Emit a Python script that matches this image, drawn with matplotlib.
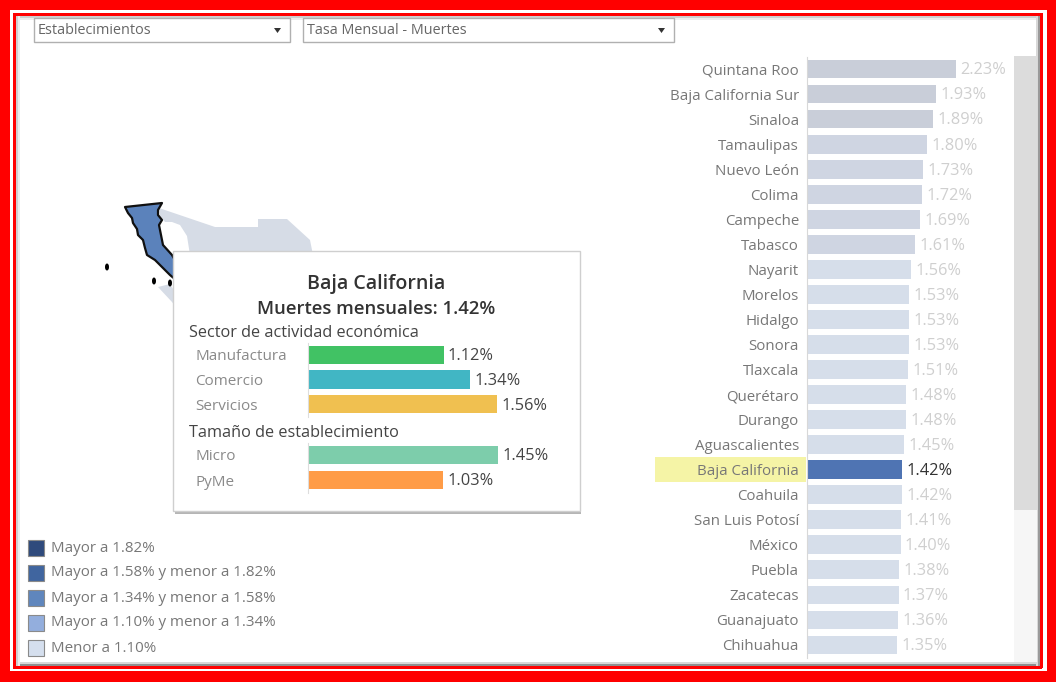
import matplotlib
matplotlib.use('Agg')
import matplotlib.pyplot as plt
from matplotlib.patches import Rectangle, Polygon, Ellipse

plt.rcParams['font.family'] = ['Open Sans', 'DejaVu Sans']

W, H = 1056, 682

# ranking por estado
estados = ['Quintana Roo', 'Baja California Sur', 'Sinaloa', 'Tamaulipas', 'Nuevo León', 'Colima',
           'Campeche', 'Tabasco', 'Nayarit', 'Morelos', 'Hidalgo', 'Sonora', 'Tlaxcala', 'Querétaro',
           'Durango', 'Aguascalientes', 'Baja California', 'Coahuila', 'San Luis Potosí', 'México',
           'Puebla', 'Zacatecas', 'Guanajuato', 'Chihuahua']
tasas = [2.23, 1.93, 1.89, 1.80, 1.73, 1.72, 1.69, 1.61, 1.56, 1.53, 1.53, 1.53, 1.51, 1.48,
         1.48, 1.45, 1.42, 1.42, 1.41, 1.40, 1.38, 1.37, 1.36, 1.35]
seleccionado = 'Baja California'

# tooltip
sectores = ['Manufactura', 'Comercio', 'Servicios']
sectores_val = [1.12, 1.34, 1.56]
sectores_col = ['#41c264', '#41b6c4', '#f0c050']
tamanos = ['Micro', 'PyMe']
tamanos_val = [1.45, 1.03]
tamanos_col = ['#7dcdab', '#ff9c47']

# leyenda
legend_labels = ['Mayor a 1.82%', 'Mayor a 1.58% y menor a 1.82%', 'Mayor a 1.34% y menor a 1.58%',
                 'Mayor a 1.10% y menor a 1.34%', 'Menor a 1.10%']
legend_colors = ['#2f4a7c', '#40659f', '#5f86bd', '#93aedd', '#d5dfee']

# mapa (contornos en pixeles de la imagen)
bc_shape = [(125, 207), (162, 203), (158, 210), (158, 215), (162, 220), (159, 225), (161, 235), (163, 245),
            (172, 255), (176, 262), (176, 280), (170, 275), (162, 267), (155, 260), (147, 255), (145, 248),
            (143, 240), (138, 235), (137, 229), (133, 223), (132, 218), (128, 213)]
sonora_shape = [(159, 208), (215, 227), (258, 227), (258, 219), (287, 219), (310, 240), (313, 255),
                (190, 255), (187, 236), (180, 225), (172, 222), (165, 222), (160, 216)]
bcs_shape = [(158, 287), (170, 284), (180, 300), (180, 312), (172, 302)]
islas = [(107, 267), (154, 281), (170, 283)]


def px_axes(fig, x0, y0, x1, y1):
    return fig.add_axes([x0 / W, 1 - y1 / H, (x1 - x0) / W, (y1 - y0) / H])


def color_clase(v):
    # tonos atenuados, el estado seleccionado va resaltado
    if v > 1.82:
        return '#c9ced9'
    if v > 1.58:
        return '#cfd5e2'
    return '#d6deea'


def bajar_etiquetas(etiquetas):
    # bar_label queda un poco alto con esta fuente
    for t in etiquetas:
        t.xyann = (t.xyann[0], -1.0)


fig = plt.figure(figsize=(W / 100, H / 100), dpi=100, facecolor='white')
bg = fig.add_axes([0, 0, 1, 1])
bg.set_xlim(0, W)
bg.set_ylim(H, 0)
bg.axis('off')

# marco rojo
for x, y, w, h, c in [(0, 0, W, 10, '#ff0000'), (0, 671, W, 11, '#ff0000'), (0, 0, 10, H, '#ff0000'),
                      (1047, 0, 9, H, '#ff0000'),
                      (13, 13, 1029, 2.5, '#ff0000'), (13, 666, 1029, 2.5, '#ff0000'),
                      (13, 13, 2.5, 655, '#ff0000'), (1040, 13, 2.5, 655, '#ff0000'),
                      (15.5, 15.5, 1024.5, 2, '#cfcfcf'), (15.5, 17.5, 1024.5, 2, '#ececec'),
                      (15.5, 664, 1024.5, 2, '#8f8f8f'), (15.5, 662, 1024.5, 2, '#d8d8d8'),
                      (15.5, 15.5, 2, 650, '#cfcfcf'), (17.5, 15.5, 2, 650, '#ececec'),
                      (1038, 15.5, 2, 650, '#9a9a9a'), (1036, 15.5, 2, 650, '#d8d8d8')]:
    bg.add_patch(Rectangle((x, y), w, h, fc=c, ec='none'))

# filtros
for x0, x1, txt in [(34, 290, 'Establecimientos'), (303, 674, 'Tasa Mensual - Muertes')]:
    bg.add_patch(Rectangle((x0, 18), x1 - x0, 24, fc='white', ec='#b0b0b0', lw=1))
    bg.text(x0 + 4, 30, txt, fontsize=10.4, color='#666666', va='center')
    bg.add_patch(Polygon([(x1 - 16, 28), (x1 - 9, 28), (x1 - 12.5, 33)], fc='#333333', ec='none'))

# scroll
bg.add_patch(Rectangle((1014, 56), 23, 454, fc='#dcdcdc', ec='none'))
bg.add_patch(Rectangle((1014, 510), 23, 152, fc='#f6f6f6', ec='none'))

# mapa
bg.add_patch(Polygon(sonora_shape, fc='#d6dce6', ec='none'))
bg.add_patch(Polygon(bcs_shape, fc='#d6dce6', ec='none'))
bg.add_patch(Polygon(bc_shape, fc='#5b82bb', ec='#101010', lw=1.6, joinstyle='round'))
for ix, iy in islas:
    bg.add_patch(Ellipse((ix, iy), 4, 7, fc='black', ec='none'))

# resalte del estado
fila = estados.index(seleccionado)
bg.add_patch(Rectangle((655, 69 + 25.04 * fila - 13), 151, 25.5, fc='#f5f4a6', ec='none'))

# tooltip
bg.add_patch(Rectangle((175, 253), 406, 261, fc='#b5b5b5', ec='none', zorder=5))
bg.add_patch(Rectangle((173, 251), 407, 260, fc='white', ec='#cfcfcf', lw=1, zorder=6))
bg.text(376, 283.5, 'Baja California', fontsize=14.1, fontweight='semibold', color='#333333',
        ha='center', va='center', zorder=7)
bg.text(376, 309.5, 'Muertes mensuales: 1.42%', fontsize=13.3, fontweight='semibold', color='#333333',
        ha='center', va='center', zorder=7)
bg.text(189, 333, 'Sector de actividad económica', fontsize=11.7, color='#444444', va='center', zorder=7)
bg.text(189, 433, 'Tamaño de establecimiento', fontsize=11.7, color='#444444', va='center', zorder=7)

# leyenda
for i, (lab, col) in enumerate(zip(legend_labels, legend_colors)):
    yy = 547.5 + 25 * i
    bg.add_patch(Rectangle((28, yy - 8), 16, 16, fc=col, ec='#8a8a8a', lw=0.8))
    bg.text(51, yy + 0.5, lab, fontsize=10.9, color='#777777', va='center')

# barras ranking
ax = px_axes(fig, 807, 56.5, 1014, 657.5)
ax.patch.set_alpha(0)
colores = ['#4f74b3' if e == seleccionado else color_clase(v) for e, v in zip(estados, tasas)]
barras = ax.barh(estados, tasas, height=0.75, color=colores)
ax.set_ylim(23.5, -0.5)
ax.set_xlim(0, 207 / 66.8)
etiquetas = ax.bar_label(barras, labels=['%.2f%%' % v for v in tasas], padding=3.2, fontsize=11.8, color='#cfcfcf')
etiquetas[fila].set_color('#333333')
bajar_etiquetas(etiquetas)
ax.tick_params(axis='y', length=0, pad=5.8, labelsize=10.8, labelcolor='#777777')
ax.set_xticks([])
for s in ['top', 'right', 'bottom']:
    ax.spines[s].set_visible(False)
ax.spines['left'].set_color('#d8d8d8')


def mini_barras(y0, y1, nombres, valores, cols, px_por_unidad):
    a = px_axes(fig, 308, y0, 560, y1)
    a.set_zorder(10)
    a.patch.set_alpha(0)
    b = a.barh(nombres, valores, height=0.75, color=cols)
    a.set_ylim(len(nombres) - 0.5, -0.5)
    a.set_xlim(0, 252 / px_por_unidad)
    bajar_etiquetas(a.bar_label(b, labels=['%.2f%%' % v for v in valores], padding=3.2, fontsize=11.8,
                                color='#444444'))
    a.tick_params(axis='y', length=0, pad=81, labelsize=11, labelcolor='#8a8a8a')
    for t in a.get_yticklabels():
        t.set_ha('left')
    a.set_xticks([])
    for s in ['top', 'right', 'bottom']:
        a.spines[s].set_visible(False)
    a.spines['left'].set_color('#dddddd')


mini_barras(342.5, 416.5, sectores, sectores_val, sectores_col, 121)
mini_barras(442.5, 492.5, tamanos, tamanos_val, tamanos_col, 131)

fig.savefig('out.png', dpi=100)
